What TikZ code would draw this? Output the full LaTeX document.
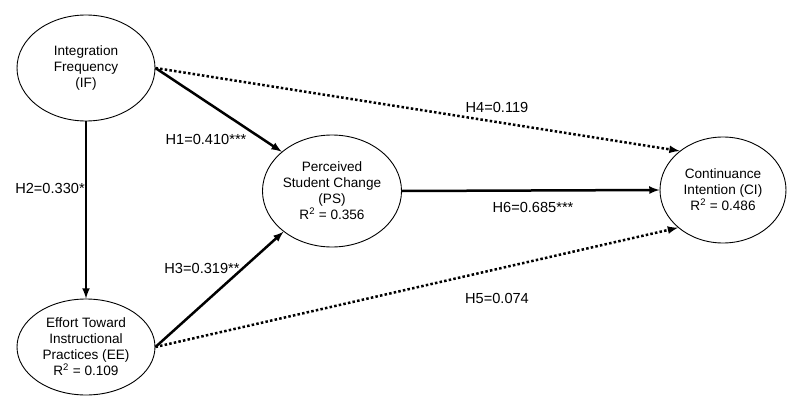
\documentclass[tikz,border=0pt]{standalone}
\usepackage{fontspec}
\setmainfont{Liberation Sans}
\usetikzlibrary{
arrows,
shapes.geometric,
positioning
}

\begin{document}
\begin{tikzpicture}
[x=1pt, y=-1pt,
construct/.style ={ellipse, draw, line width=0.9pt, fill=white, align=center, inner sep=0pt, font=\fontsize{13.6}{16}\selectfont},
coef/.style ={font=\fontsize{14.6}{16}\selectfont, inner sep=1pt},
path_solid/.style ={draw, -latex, line width=2.5pt},
path_dotted/.style ={draw, -latex, line width=2.5pt, dash pattern=on 2.5pt off 2.2pt}]

\useasboundingbox (0,0) rectangle (787,396);

%Konstrukte
\node [construct, minimum width=138, minimum height=106] (IF) at (86,68) {Integration\\Frequency\\(IF)};
\node [construct, minimum width=138, minimum height=96] (EE) at (86,347) {Effort Toward\\Instructional\\Practices (EE)\\R\textsuperscript{2} = 0.109};
\node [construct, minimum width=139, minimum height=112] (PS) at (332,191) {Perceived\\Student Change\\(PS)\\R\textsuperscript{2} = 0.356};
\node [construct, minimum width=126, minimum height=106] (CI) at (723,190) {Continuance\\Intention (CI)\\R\textsuperscript{2} = 0.486};

%Koeffizienten
\node [coef] (h1) at (206,139) {H1=0.410***};
\node [coef] (h2) at (50,188) {H2=0.330*};
\node [coef] (h3) at (202,268) {H3=0.319**};
\node [coef] (h4) at (497,107) {H4=0.119};
\node [coef] (h5) at (497,298) {H5=0.074};
\node [coef] (h6) at (533,207) {H6=0.685***};

%Pfeile signifikant
 \draw [path_solid](IF.east) -- (PS.142);
 \draw [path_solid](IF.south) -- (EE.north);
 \draw [path_solid](EE.east) -- (PS.220);
 \draw [path_solid](PS.east) -- (CI.west);

%Pfeile nicht signifikant
 \draw [path_dotted](IF.east) -- (CI.138);
 \draw [path_dotted](EE.east) -- (CI.220);

\end{tikzpicture}
\end{document}
